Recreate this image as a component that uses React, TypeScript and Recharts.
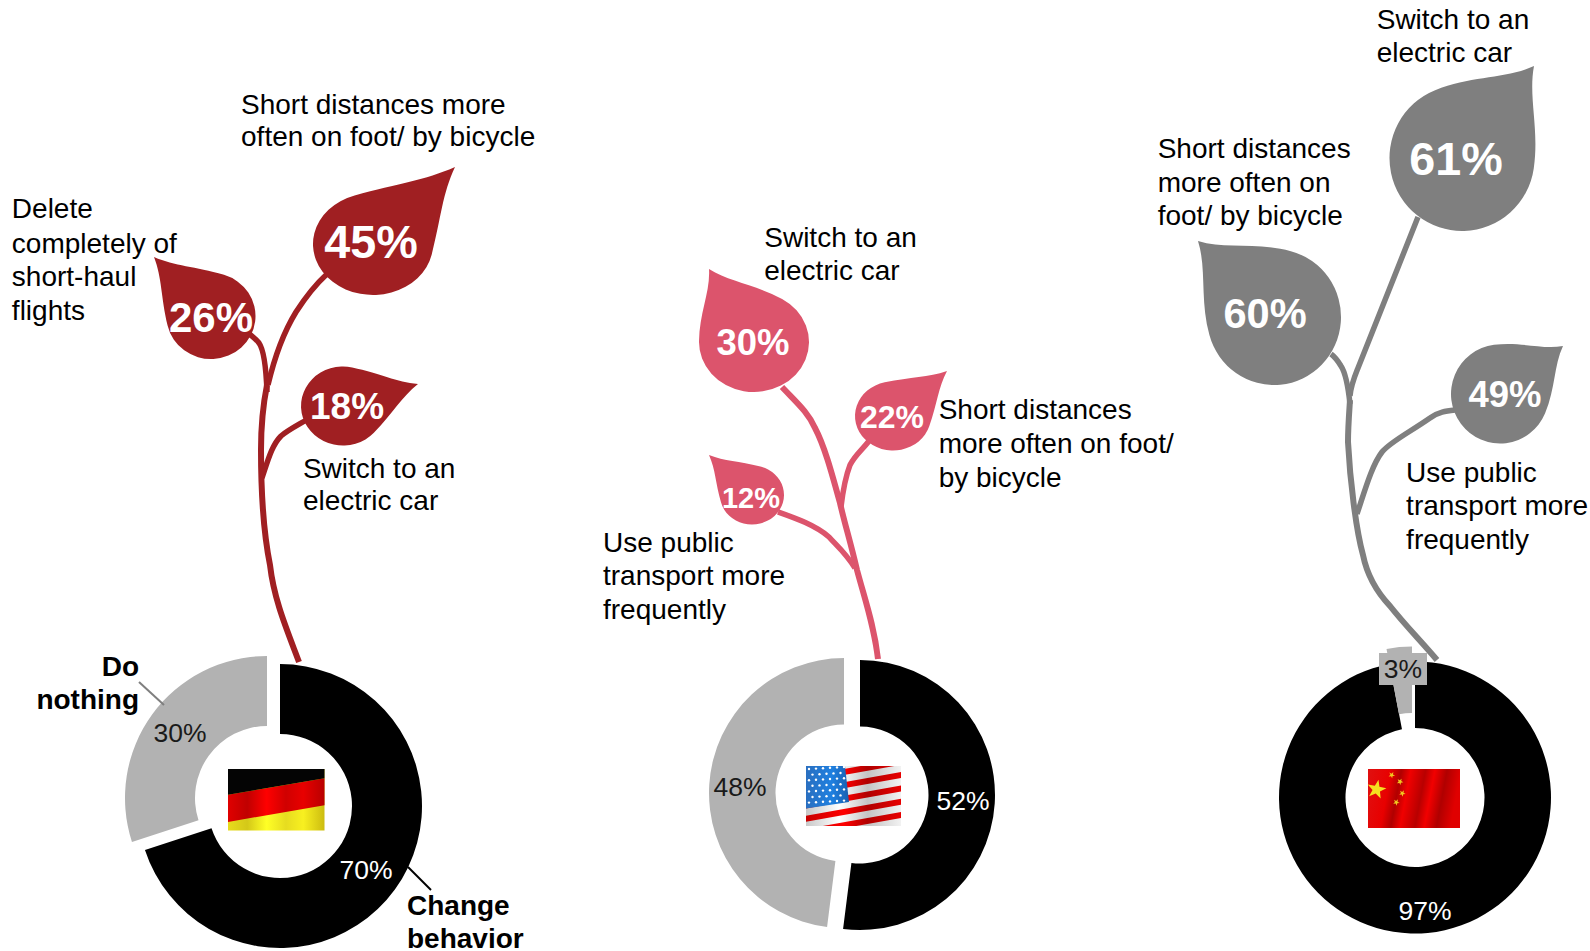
import { Cell, Pie, PieChart, Scatter, ScatterChart, XAxis, YAxis } from 'recharts';

const W = 1590;
const H = 951;
const FONT = '"Liberation Sans", Arial, sans-serif';

// donut shares
const shareNames = ['Change behavior', 'Do nothing'];
const germanyShares = [70, 30];
const usaShares = [52, 48];
const chinaShares = [97, 3];

// leaf values
const germanyLeafValues = [45, 26, 18];
const usaLeafValues = [30, 22, 12];
const chinaLeafValues = [61, 60, 49];

// colours
const RED = '#A01F22';
const PINK = '#DC546C';
const GREY = '#7F7F7F';
const LIGHT = '#B2B2B2';

// leaf layout, same order as the values
const germanyLeaves = [
  { x: 373, y: 244, rx: 60, ry: 51, tx: 455, ty: 167, lx: 371, ly: 241, fs: 46.7 },
  { x: 211, y: 316, rx: 44.5, ry: 43, tx: 154, ty: 257, lx: 211, ly: 317, fs: 42 },
  { x: 343, y: 406, rx: 42, ry: 39.5, tx: 418, ty: 384, lx: 347, ly: 406, fs: 37 },
];
const usaLeaves = [
  { x: 754, y: 342, rx: 55, ry: 50, tx: 709, ty: 269, lx: 753, ly: 342, fs: 36.5 },
  { x: 893, y: 416, rx: 38, ry: 34.5, tx: 947, ty: 371, lx: 892, ly: 416, fs: 32 },
  { x: 752, y: 495, rx: 32, ry: 29.5, tx: 709, ty: 455, lx: 751, ly: 498, fs: 29 },
];
const chinaLeaves = [
  { x: 1462, y: 158, rx: 72.5, ry: 73, tx: 1534, ty: 66, lx: 1456, ly: 158, fs: 46.7 },
  { x: 1274, y: 317, rx: 67, ry: 68, tx: 1198, ty: 241, lx: 1265, ly: 313, fs: 41.6 },
  { x: 1500, y: 394, rx: 49, ry: 49.5, tx: 1563, ty: 346, lx: 1505, ly: 394, fs: 36.5 },
];

const stems = [
  { color: RED, width: 6, d: 'M299 662 C287 630 274 600 270 565 C263 530 261 490 261 450 C261 425 263 405 267 385' },
  { color: RED, width: 5.5, d: 'M267 392 C266 365 264 350 259 343 C256 339 252 336 248 333' },
  { color: RED, width: 5.5, d: 'M268 385 C275 355 285 330 296 312 C305 298 315 285 327 274' },
  { color: RED, width: 5.5, d: 'M262 478 C268 460 272 445 281 436 C288 430 298 425 308 419' },
  { color: PINK, width: 6, d: 'M878 659 C874 625 865 600 857 570 C850 540 845 525 840 503 C831 470 824 445 815 428 C808 412 796 402 782 387' },
  { color: PINK, width: 5.5, d: 'M841 507 C843 490 845 478 850 465 C855 455 862 450 869 441' },
  { color: PINK, width: 5.5, d: 'M855 568 C845 552 836 545 829 537 C815 525 795 518 778 512' },
  { color: GREY, width: 6, d: 'M1437 660 C1420 640 1405 625 1390 606 C1375 590 1367 575 1363 555 C1356 530 1350 480 1348 442 C1348 428 1349 415 1350 400' },
  { color: GREY, width: 5.5, d: 'M1350 404 C1348 385 1345 372 1341 366 C1338 361 1335 357 1331 354' },
  { color: GREY, width: 5.5, d: 'M1350 396 C1351 385 1354 378 1358 368 L1418 217' },
  { color: GREY, width: 5.5, d: 'M1357 514 C1365 490 1372 465 1382 452 C1390 442 1410 432 1430 418 C1438 412 1446 411 1455 410' },
];

const textBlocks = [
  { x: 12, y: [206, 240, 273, 306], lines: ['Delete', 'completely of', 'short-haul', 'flights'] },
  { x: 238, y: [103, 135], lines: ['Short distances more', 'often on foot/ by bicycle'] },
  { x: 299, y: [462, 494], lines: ['Switch to an', 'electric car'] },
  { x: 754, y: [234, 267], lines: ['Switch to an', 'electric car'] },
  { x: 926, y: [404, 437, 471], lines: ['Short distances', 'more often on foot/', 'by bicycle'] },
  { x: 595, y: [535, 568, 601], lines: ['Use public', 'transport more', 'frequently'] },
  { x: 1358, y: [19, 52], lines: ['Switch to an', 'electric car'] },
  { x: 1142, y: [146, 180, 213], lines: ['Short distances', 'more often on', 'foot/ by bicycle'] },
  { x: 1387, y: [466, 499, 532], lines: ['Use public', 'transport more', 'frequently'] },
];

const toRows = (values: number[]) => values.map((value, i) => ({ name: shareNames[i], value }));
const toLeaves = (values: number[], layout: any[], fill: string) =>
  values.map((value, i) => ({ ...layout[i], value, fill }));

const leafData = [
  ...toLeaves(germanyLeafValues, germanyLeaves, RED),
  ...toLeaves(usaLeafValues, usaLeaves, PINK),
  ...toLeaves(chinaLeafValues, chinaLeaves, GREY),
];

function Leaf(props: any) {
  const { cx, cy, payload } = props;
  const { rx, ry, tx, ty, lx, ly, fs, value, fill } = payload;
  // work in a unit circle, tip along +u
  const nx = (tx - payload.x) / rx;
  const ny = (ty - payload.y) / ry;
  const d = Math.hypot(nx, ny);
  const ux = nx / d;
  const uy = ny / d;
  const pt = (p: number, q: number) =>
    `${cx + rx * (p * ux - q * uy)} ${cy + ry * (p * uy + q * ux)}`;
  const t = (60 * Math.PI) / 180;
  const c = Math.cos(t);
  const s = Math.sin(t);
  const k = (d - c) * 0.5;
  const path = [
    `M${pt(d, 0)}`,
    `C${pt(d - (d - c) * 0.35, 0.2)} ${pt(c + k * s, s - k * c)} ${pt(c, s)}`,
    `A${rx} ${ry} 0 1 1 ${pt(c, -s)}`,
    `C${pt(c + k * s, -s + k * c)} ${pt(d - (d - c) * 0.35, -0.2)} ${pt(d, 0)}`,
    'Z',
  ].join(' ');
  return (
    <g>
      <path d={path} fill={fill} />
      <text
        x={lx}
        y={ly}
        dy="0.36em"
        textAnchor="middle"
        fontFamily={FONT}
        fontWeight={700}
        fontSize={fs}
        fill="#fff"
      >
        {value}%
      </text>
    </g>
  );
}

// one donut = two Pies, each showing one slice, so a slice can sit off-centre
function donut(values: number[], cx: number, cy: number, inner: number, outer: number, dx: number, dy: number) {
  const rows = toRows(values);
  return [
    <Pie
      key={`${cx}-a`}
      data={rows}
      dataKey="value"
      cx={cx}
      cy={cy}
      innerRadius={inner}
      outerRadius={outer}
      startAngle={90}
      endAngle={-270}
      stroke="none"
      isAnimationActive={false}
    >
      <Cell fill="#000" />
      <Cell fill="none" />
    </Pie>,
    <Pie
      key={`${cx}-b`}
      data={rows}
      dataKey="value"
      cx={cx + dx}
      cy={cy + dy}
      innerRadius={inner}
      outerRadius={outer}
      startAngle={90}
      endAngle={-270}
      stroke="none"
      isAnimationActive={false}
    >
      <Cell fill="none" />
      <Cell fill={LIGHT} />
    </Pie>,
  ];
}

function PieLabel({ x, y, fill, text }: { x: number; y: number; fill: string; text: string }) {
  return (
    <text x={x} y={y} dy="0.36em" textAnchor="middle" fontFamily={FONT} fontSize={26.5} fill={fill}>
      {text}
    </text>
  );
}

function GermanyFlag() {
  const x = 228;
  const y = 769;
  const w = 96.5;
  const h = 61.5;
  return (
    <g>
      <defs>
        <linearGradient id="deRed" x1="0" x2="1" y1="0" y2="0">
          <stop offset="0" stopColor="#e00000" />
          <stop offset="0.2" stopColor="#c00000" />
          <stop offset="0.4" stopColor="#ff0000" />
          <stop offset="0.6" stopColor="#d00000" />
          <stop offset="0.78" stopColor="#e80000" />
          <stop offset="1" stopColor="#b80000" />
        </linearGradient>
        <linearGradient id="deYellow" x1="0" x2="1" y1="0" y2="0">
          <stop offset="0" stopColor="#e8dc1c" />
          <stop offset="0.2" stopColor="#d4c818" />
          <stop offset="0.4" stopColor="#ffff26" />
          <stop offset="0.6" stopColor="#e6dc20" />
          <stop offset="0.78" stopColor="#f8f020" />
          <stop offset="1" stopColor="#ccbc10" />
        </linearGradient>
      </defs>
      <rect x={x} y={y} width={w} height={h} fill="url(#deYellow)" />
      <polygon points={`${x},${y + h * 0.42} ${x + w},${y + h * 0.15} ${x + w},${y + h * 0.59} ${x},${y + h * 0.86}`} fill="url(#deRed)" />
      <polygon points={`${x},${y} ${x + w},${y} ${x + w},${y + h * 0.15} ${x},${y + h * 0.42}`} fill="#040404" />
    </g>
  );
}

function UsaFlag() {
  const x = 806;
  const y = 766;
  const w = 95;
  const h = 60;
  const stripes = [-7, -6, -5, -4, -3, -2, -1, 0, 1];
  const stars: [number, number][] = [];
  for (let r = 0; r < 7; r++) {
    for (let c = 0; c < 6; c++) {
      stars.push([x + 3 + c * 7 + (r % 2) * 3.5, y + 3 + r * 5.6 - c * 0.4]);
    }
  }
  return (
    <g>
      <defs>
        <clipPath id="usClip">
          <rect x={x} y={y} width={w} height={h} />
        </clipPath>
        <linearGradient id="usRed" x1="0" x2="1" y1="0" y2="0">
          <stop offset="0" stopColor="#c80000" />
          <stop offset="0.4" stopColor="#ff0000" />
          <stop offset="0.65" stopColor="#b00000" />
          <stop offset="1" stopColor="#e80000" />
        </linearGradient>
        <linearGradient id="usWhite" x1="0" x2="1" y1="0" y2="0">
          <stop offset="0" stopColor="#c8c8c8" />
          <stop offset="0.35" stopColor="#ffffff" />
          <stop offset="0.65" stopColor="#c4c4c4" />
          <stop offset="1" stopColor="#f2f2f2" />
        </linearGradient>
        <linearGradient id="usBlue" x1="0" x2="1" y1="0" y2="0">
          <stop offset="0" stopColor="#2a6fc0" />
          <stop offset="0.6" stopColor="#1f80e0" />
          <stop offset="1" stopColor="#1a60b0" />
        </linearGradient>
      </defs>
      <g clipPath="url(#usClip)">
        <rect x={x} y={y} width={w} height={h} fill="url(#usWhite)" />
        {stripes.map(k => {
          const y0 = 818.7 + k * 13.3;
          return (
            <polygon
              key={k}
              points={`${x},${y0 - 3} ${x + w},${y0 - 20} ${x + w},${y0 - 14} ${x},${y0 + 3}`}
              fill="url(#usRed)"
            />
          );
        })}
        <polygon points={`${x},${y} ${x + 39},${y} ${x + 43},${y + 36} ${x},${y + 42.5}`} fill="url(#usBlue)" />
        {stars.filter(([a, b]) => a < x + 40 && b < y + 39).map(([a, b]) => (
          <circle key={`${a}-${b}`} cx={a} cy={b} r={1.2} fill="#fff" />
        ))}
      </g>
    </g>
  );
}

function starPoints(cx: number, cy: number, r: number, rot: number) {
  const pts: string[] = [];
  for (let i = 0; i < 10; i++) {
    const rad = i % 2 ? r * 0.4 : r;
    const a = rot + (i * Math.PI) / 5 - Math.PI / 2;
    pts.push(`${cx + rad * Math.cos(a)},${cy + rad * Math.sin(a)}`);
  }
  return pts.join(' ');
}

function ChinaFlag() {
  const small: [number, number][] = [[1391.7, 775], [1400, 781.7], [1402.3, 793.3], [1396.3, 802.3]];
  return (
    <g>
      <defs>
        <linearGradient id="cnRed" x1="0" x2="1" y1="0" y2="0.12">
          <stop offset="0" stopColor="#e01010" />
          <stop offset="0.25" stopColor="#e80000" />
          <stop offset="0.36" stopColor="#b00000" />
          <stop offset="0.46" stopColor="#f00000" />
          <stop offset="0.62" stopColor="#b80000" />
          <stop offset="0.72" stopColor="#f20000" />
          <stop offset="0.85" stopColor="#b00000" />
          <stop offset="1" stopColor="#e00000" />
        </linearGradient>
      </defs>
      <rect x={1368} y={769} width={92} height={59} fill="url(#cnRed)" />
      <polygon points={starPoints(1376.5, 789.5, 10, 0.2)} fill="#f5e020" />
      {small.map(([a, b], i) => (
        <polygon key={i} points={starPoints(a, b, 3.4, 0.5)} fill="#f0c820" />
      ))}
    </g>
  );
}

const layer = { position: 'absolute', left: 0, top: 0 } as const;

export default function App() {
  return (
    <div style={{ position: 'absolute', left: 0, top: 0, width: W, height: H, background: '#fff', overflow: 'hidden' }}>
      <svg width={W} height={H} style={layer}>
        {stems.map((s, i) => (
          <path key={i} d={s.d} fill="none" stroke={s.color} strokeWidth={s.width} />
        ))}
      </svg>
      <div style={layer}>
        <ScatterChart width={W} height={H} margin={{ top: 0, right: 0, bottom: 0, left: 0 }}>
          <XAxis type="number" dataKey="x" domain={[0, W]} hide />
          <YAxis type="number" dataKey="y" domain={[0, H]} reversed hide />
          <Scatter data={leafData} shape={<Leaf />} isAnimationActive={false} />
        </ScatterChart>
      </div>
      <div style={layer}>
        <PieChart width={W} height={H} margin={{ top: 0, right: 0, bottom: 0, left: 0 }}>
          {donut(germanyShares, 280, 806, 72, 142, -13, -8)}
          {donut(usaShares, 860, 795, 68.5, 135, -16, -2)}
          {donut(chinaShares, 1415, 797.5, 69.5, 136, -3, -15)}
        </PieChart>
      </div>
      <svg width={W} height={H} style={layer}>
        <rect x={1379} y={653} width={48} height={32} fill={LIGHT} />
        <line x1={139} y1={682} x2={164} y2={705} stroke={GREY} strokeWidth={2} />
        <line x1={408} y1={867} x2={431} y2={890} stroke="#000" strokeWidth={2} />
        <GermanyFlag />
        <UsaFlag />
        <ChinaFlag />
        <PieLabel x={180} y={732} fill="#1a1a1a" text={`${germanyShares[1]}%`} />
        <PieLabel x={366} y={869} fill="#fff" text={`${germanyShares[0]}%`} />
        <PieLabel x={740} y={786} fill="#1a1a1a" text={`${usaShares[1]}%`} />
        <PieLabel x={963} y={800} fill="#fff" text={`${usaShares[0]}%`} />
        <PieLabel x={1403} y={668} fill="#1a1a1a" text={`${chinaShares[1]}%`} />
        <PieLabel x={1425} y={910} fill="#fff" text={`${chinaShares[0]}%`} />
        <g fontFamily={FONT} fontSize={28} fill="#000">
          {textBlocks.map(b =>
            b.lines.map((line, i) => (
              <text key={`${b.x}-${i}`} x={b.x * 1.014 - 0.3} y={b.y[i] * 1.014 + 9.5}>
                {line}
              </text>
            )),
          )}
        </g>
        <g fontFamily={FONT} fontSize={28} fontWeight={700} fill="#000">
          <text x={139} y={676} textAnchor="end">Do</text>
          <text x={139} y={709} textAnchor="end">nothing</text>
          <text x={407} y={915}>Change</text>
          <text x={407} y={948}>behavior</text>
        </g>
      </svg>
    </div>
  );
}
